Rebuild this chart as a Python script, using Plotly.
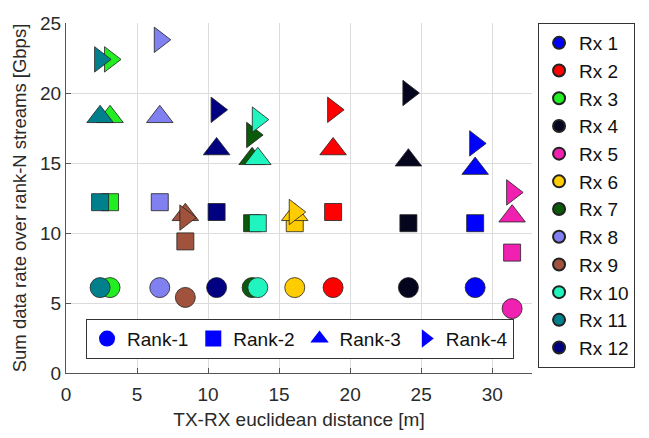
import plotly.graph_objects as go

# ---- data ----
rx_names = ["Rx 1", "Rx 2", "Rx 3", "Rx 4", "Rx 5", "Rx 6",
            "Rx 7", "Rx 8", "Rx 9", "Rx 10", "Rx 11", "Rx 12"]
distance = [28.8, 18.8, 3.1, 24.1, 31.4, 16.1, 13.1, 6.6, 8.4, 13.5, 2.4, 10.6]
rank1 = [6.1, 6.1, 6.1, 6.1, 4.6, 6.1, 6.1, 6.1, 5.4, 6.1, 6.1, 6.1]
rank2 = [10.7, 11.5, 12.2, 10.7, 8.6, 10.7, 10.7, 12.2, 9.4, 10.7, 12.2, 11.5]
rank3 = [14.6, 16.0, 18.3, 15.2, 11.2, 11.3, 15.3, 18.3, 11.3, 15.3, 18.3, 16.0]
rank4 = [16.4, 18.8, 22.4, 20.0, 12.9, 11.5, 17.0, 23.8, 11.1, 18.1, 22.4, 18.8]
rank_names = ["Rank-1", "Rank-2", "Rank-3", "Rank-4"]

# ---- styles ----
rx_colors = ["#0000ff", "#ff0000", "#22ee22", "#05051e", "#f020b0", "#ffcc00",
             "#0a5a0a", "#8080f0", "#a0523d", "#20f5c0", "#00808c", "#000080"]
rank_symbols = ["circle", "square", "triangle-up", "triangle-right"]
rank_sizes = [20, 17, 23, 22]
FONT = "Liberation Sans, Arial, sans-serif"

fig = go.Figure()
for i, name in enumerate(rx_names):
    ys = [rank1[i], rank2[i], rank3[i], rank4[i]]
    fig.add_trace(go.Scatter(
        x=[distance[i]] * 4, y=ys, mode="markers", name=name,
        marker=dict(symbol=rank_symbols, size=rank_sizes, color=rx_colors[i],
                    opacity=1, line=dict(color="#222222", width=0.8)),
        legend="legend",
    ))

for sym, rn in zip(rank_symbols, rank_names):
    fig.add_trace(go.Scatter(
        x=[None], y=[None], mode="markers", name=rn,
        marker=dict(symbol=sym, size=20, color="#0000ff", opacity=1, line=dict(width=0)),
        legend="legend2",
    ))

axis_common = dict(
    showgrid=True, gridcolor="#dcdcdc", gridwidth=1,
    ticks="inside", ticklen=5, tickcolor="#555555",
    showline=True, linecolor="#555555", linewidth=1,
    zeroline=False, mirror=False,
    tickfont=dict(family=FONT, size=19, color="#2a2a2a"),
)

fig.update_layout(
    width=649, height=438,
    margin=dict(l=66, r=117, t=23, b=61),
    paper_bgcolor="white", plot_bgcolor="white",
    font=dict(family=FONT, size=19, color="#222222"),
    xaxis=dict(range=[0, 32.8], tickvals=[0, 5, 10, 15, 20, 25, 30],
               ticklabelstandoff=4,
               title=dict(text="TX-RX euclidean distance [m]",
                          font=dict(family=FONT, size=19, color="#2a2a2a"), standoff=8),
               **axis_common),
    yaxis=dict(range=[0, 25], tickvals=[0, 5, 10, 15, 20, 25],
               title=dict(text="Sum data rate over rank-N streams [Gbps]",
                          font=dict(family=FONT, size=18.5, color="#2a2a2a"), standoff=8),
               **axis_common),
    legend=dict(x=1.013, y=1.0, xanchor="left", yanchor="top",
                bordercolor="#333333", borderwidth=1, bgcolor="white",
                font=dict(family=FONT, size=19, color="#111111"),
                itemsizing="constant", tracegroupgap=0, entrywidth=72),
    legend2=dict(orientation="h", x=0.043, y=0.155, xanchor="left", yanchor="top",
                 bordercolor="#333333", borderwidth=1, bgcolor="white",
                 font=dict(family=FONT, size=19, color="#111111"),
                 itemsizing="trace"),
    showlegend=True,
)

fig.write_html("out.html")
